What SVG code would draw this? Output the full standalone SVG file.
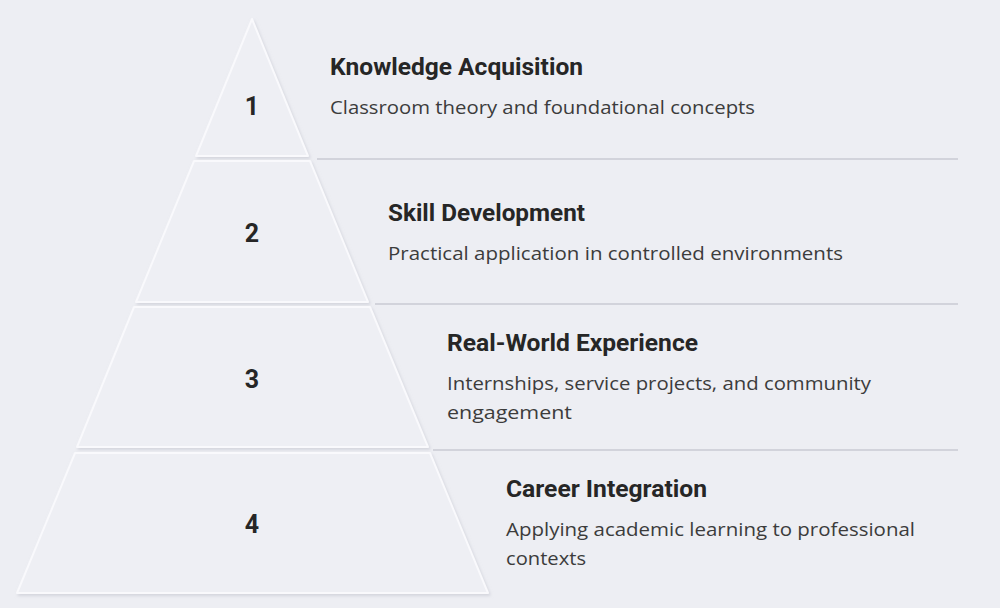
<svg xmlns="http://www.w3.org/2000/svg" width="1000" height="608" viewBox="0 0 1000 608">
  <defs>
    <filter id="neo" x="-20%" y="-20%" width="140%" height="140%">
      <feDropShadow dx="1.5" dy="2" stdDeviation="1.5" flood-color="#c9cbd4" flood-opacity="0.7"/>
    </filter>
    <style>
      .seg { fill: #eeeff4; stroke: #f9f9fc; stroke-width: 2; stroke-linejoin: round; filter: url(#neo); }
      .num { font-family: Roboto, "Liberation Sans", sans-serif; font-weight: 700; font-size: 25px; fill: #262626; text-anchor: middle; }
      .title { font-family: Roboto, "Liberation Sans", sans-serif; font-weight: 700; font-size: 23px; fill: #262626; }
      .desc { font-family: "Open Sans", "Liberation Sans", sans-serif; font-weight: 400; font-size: 18px; fill: #3c3c3c; }
      .sep { stroke: #d2d3db; stroke-width: 2; fill: none; }
    </style>
  </defs>
  <rect x="0" y="0" width="1000" height="608" fill="#edeef3"/>

  <g id="connectors">
    <line class="sep" x1="317" y1="159" x2="958" y2="159"/>
    <line class="sep" x1="375" y1="304" x2="958" y2="304"/>
    <line class="sep" x1="433" y1="450" x2="958" y2="450"/>
  </g>

  <g id="level1">
    <polygon class="seg" points="252,19 308,156 196,156"/>
    <text class="num" x="252" y="115">1</text>
    <text class="title" x="330" y="75" textLength="253" lengthAdjust="spacingAndGlyphs">Knowledge Acquisition</text>
    <text class="desc" x="330" y="114" textLength="425" lengthAdjust="spacingAndGlyphs">Classroom theory and foundational concepts</text>
  </g>

  <g id="level2">
    <polygon class="seg" points="194,161 310,161 368,302 136,302"/>
    <text class="num" x="252" y="242">2</text>
    <text class="title" x="388" y="221" textLength="197" lengthAdjust="spacingAndGlyphs">Skill Development</text>
    <text class="desc" x="388" y="260" textLength="455" lengthAdjust="spacingAndGlyphs">Practical application in controlled environments</text>
  </g>

  <g id="level3">
    <polygon class="seg" points="134,307 370,307 428,447 77,447"/>
    <text class="num" x="252" y="388">3</text>
    <text class="title" x="447" y="351" textLength="251" lengthAdjust="spacingAndGlyphs">Real-World Experience</text>
    <text class="desc" x="447" y="390" textLength="424" lengthAdjust="spacingAndGlyphs">Internships, service projects, and community</text>
    <text class="desc" x="447" y="419" textLength="125" lengthAdjust="spacingAndGlyphs">engagement</text>
  </g>

  <g id="level4">
    <polygon class="seg" points="75,453 430,453 488,593 17,593"/>
    <text class="num" x="252" y="533">4</text>
    <text class="title" x="506" y="497" textLength="201" lengthAdjust="spacingAndGlyphs">Career Integration</text>
    <text class="desc" x="506" y="536" textLength="409" lengthAdjust="spacingAndGlyphs">Applying academic learning to professional</text>
    <text class="desc" x="506" y="565" textLength="80" lengthAdjust="spacingAndGlyphs">contexts</text>
  </g>
</svg>
